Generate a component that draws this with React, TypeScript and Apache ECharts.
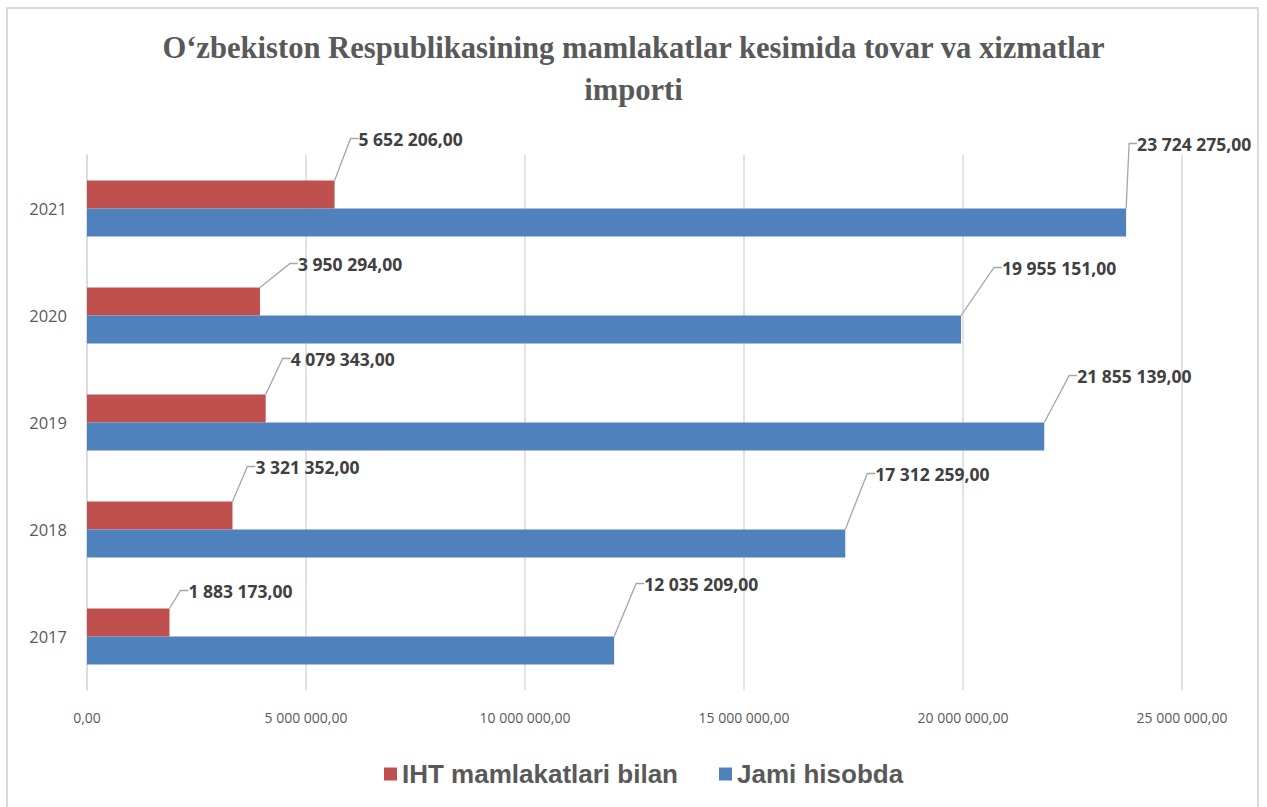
import React, { useEffect, useRef } from "react";
import * as echarts from "echarts";

const titleText = "O‘zbekiston Respublikasining mamlakatlar kesimida tovar va xizmatlar\nimporti";
const years = ["2017", "2018", "2019", "2020", "2021"];
const seriesNames = ["IHT mamlakatlari bilan", "Jami hisobda"];
const ihtValues = [1883173, 3321352, 4079343, 3950294, 5652206];
const jamiValues = [12035209, 17312259, 21855139, 19955151, 23724275];
const xTicks = { min: 0, max: 25000000, interval: 5000000 };

// label placement (layout only): offsets from bar end / bar top
const redLabelDx = [19, 23, 25, 38, 24];
const redLabelDy = [-18, -35, -36, -24, -42];
const blueLabelDx = [30, 30, 33, 41, 11];
const blueLabelDy = [-53, -56, -47, -48, -65];

const fmt = (v: number) =>
  Math.round(v).toString().replace(/\B(?=(\d{3})+(?!\d))/g, " ") + ",00";

export default function App() {
  const ref = useRef<HTMLDivElement>(null);
  useEffect(() => {
    if (!ref.current) return;
    const chart = echarts.init(ref.current, undefined, { renderer: "svg" });
    const labelStyle = {
      show: true,
      position: "right",
      formatter: (p: any) => fmt(p.value),
      fontFamily: "Open Sans",
      fontWeight: "bold",
      fontSize: 17.5,
      color: "#404040",
    };
    const labelLine = {
      show: true,
      length2: 8,
      lineStyle: { color: "#a6a6a6", width: 1.3 },
    };
    const mkLayout = (dxs: number[], dys: number[]) => (p: any) => ({
      x: p.rect.x + p.rect.width + dxs[p.dataIndex],
      y: p.rect.y + dys[p.dataIndex],
      align: "left",
      verticalAlign: "middle",
    });
    chart.setOption({
      animation: false,
      backgroundColor: "#ffffff",
      title: {
        text: titleText,
        left: "center",
        top: 22,
        textStyle: {
          fontFamily: "Liberation Serif",
          fontSize: 30.6,
          fontWeight: "bold",
          color: "#595959",
          lineHeight: 42,
        },
      },
      legend: {
        data: seriesNames,
        top: 756,
        left: 379,
        icon: "rect",
        itemWidth: 13,
        itemHeight: 13,
        itemGap: 41,
        textStyle: {
          fontFamily: "Liberation Sans",
          fontWeight: "bold",
          fontSize: 26,
          color: "#595959",
        },
      },
      grid: { left: 87, right: 85, top: 155, bottom: 117 },
      xAxis: {
        type: "value",
        min: xTicks.min,
        max: xTicks.max,
        interval: xTicks.interval,
        axisLine: { show: false },
        axisTick: { show: false },
        splitLine: { show: true, lineStyle: { color: "#d9d9d9", width: 1.5 } },
        axisLabel: {
          formatter: (v: number) => fmt(v),
          fontFamily: "Open Sans",
          fontSize: 14,
          color: "#595959",
          margin: 20,
        },
      },
      yAxis: {
        type: "category",
        data: years,
        axisLine: { show: true, lineStyle: { color: "#d9d9d9", width: 1.5 } },
        axisTick: { show: false },
        axisLabel: {
          fontFamily: "Open Sans",
          fontSize: 16.5,
          color: "#595959",
          margin: 20,
        },
      },
      graphic: [
        {
          type: "rect",
          shape: { x: 7, y: 8, width: 1251, height: 830 },
          style: { fill: "none", stroke: "#d9d9d9", lineWidth: 2 },
          silent: true,
        },
      ],
      series: [
        {
          name: seriesNames[0],
          type: "bar",
          data: ihtValues,
          barWidth: 28,
          barGap: "0%",
          itemStyle: { color: "#c0504d" },
          label: labelStyle,
          labelLine,
          labelLayout: mkLayout(redLabelDx, redLabelDy),
        },
        {
          name: seriesNames[1],
          type: "bar",
          data: jamiValues,
          barWidth: 28,
          barGap: "0%",
          itemStyle: { color: "#4f81bd" },
          label: labelStyle,
          labelLine,
          labelLayout: mkLayout(blueLabelDx, blueLabelDy),
        },
      ],
    });
    return () => chart.dispose();
  }, []);
  return (
    <div
      ref={ref}
      style={{ position: "absolute", left: 0, top: 0, width: 1267, height: 807 }}
    />
  );
}
